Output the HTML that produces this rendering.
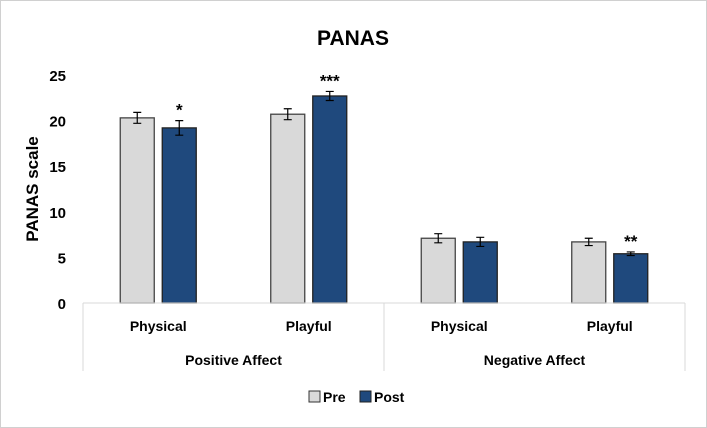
<!DOCTYPE html>
<html><head><meta charset="utf-8"><style>
body{margin:0;background:#fff;}
svg{display:block;font-family:"Liberation Sans",Arial,sans-serif;font-weight:bold;}
</style></head><body>
<svg id="chart" width="707" height="428">
<rect x="0.5" y="0.5" width="706" height="427" fill="#fff" stroke="#d0d0d0"/>
<text x="353" y="45" text-anchor="middle" font-size="21" fill="#000">PANAS</text>
<text transform="translate(38,189) rotate(-90)" text-anchor="middle" font-size="17">PANAS scale</text>
<g id="yticks"></g><g id="bars"></g><g id="cats"></g>
<g>
<rect x="309" y="391" width="11" height="11" fill="#d9d9d9" stroke="#333"/>
<text x="323" y="402" font-size="14">Pre</text>
<rect x="360" y="391" width="11" height="11" fill="#1f497d" stroke="#222"/>
<text x="374" y="402" font-size="14">Post</text>
</g>
</svg>
<script>
const categories=["Physical","Playful","Physical","Playful"];
const groups=["Positive Affect","Negative Affect"];
const preValues=[20.3,20.7,7.1,6.7];
const postValues=[19.2,22.7,6.7,5.4];
const preErr=[0.6,0.6,0.5,0.4];
const postErr=[0.8,0.5,0.5,0.2];
const sigLabels=["*","***","","**"];
const yTicks=[0,5,10,15,20,25];

const NS="http://www.w3.org/2000/svg";
const x0=83,x1=685,y0=303,yTop=75,yMax=25;
const y=v=>y0-(v/yMax)*(y0-yTop);
const bw=(x1-x0)/categories.length;
function mk(tag,attrs,parent,txt){const e=document.createElementNS(NS,tag);for(const k in attrs)e.setAttribute(k,attrs[k]);if(txt!==undefined)e.textContent=txt;parent.appendChild(e);return e;}
const gy=document.getElementById('yticks'),gb=document.getElementById('bars'),gc=document.getElementById('cats');
yTicks.forEach(t=>{const e=mk('text',{x:66,y:y(t)+6,'text-anchor':'end','font-size':15},gy,String(t));

});
categories.forEach((c,i)=>{
 const cx=x0+bw*(i+0.5);
 [[preValues,preErr,'#d9d9d9','#444',-38],[postValues,postErr,'#1f497d','#222',4]].forEach(([vals,errs,fill,st,off],s)=>{
  const v=vals[i];
  const r=mk('rect',{x:cx+off,y:y(v),width:34,height:y0-y(v),fill:fill,stroke:st,'stroke-width':1.3},gb);
  
  
  const ex=cx+off+17,e=errs[i];
  const eb=mk('path',{d:`M${ex},${y(v+e)}V${y(v-e)}M${ex-4},${y(v+e)}H${ex+4}M${ex-4},${y(v-e)}H${ex+4}`,stroke:'#000','stroke-width':1.2,fill:'none'},gb);
  
  
 });
 if(sigLabels[i]){const v=postValues[i]+postErr[i];
  const t=mk('text',{x:cx+21,y:y(v)-5,'text-anchor':'middle','font-size':17},gb,sigLabels[i]);
  
  }
 const ct=mk('text',{x:cx,y:331,'text-anchor':'middle','font-size':14},gc,c);
 
 
});
const ax=mk('path',{d:`M${x0},${y0}H${x1}M${x0},${y0}V371M${x1},${y0}V371M${(x0+x1)/2},${y0}V371`,stroke:'#d9d9d9','stroke-width':1,fill:'none'},gc);


groups.forEach((g,i)=>{const t=mk('text',{x:x0+bw*(2*i+1),y:365,'text-anchor':'middle','font-size':14},gc,g);

});
</script>
</body></html>
